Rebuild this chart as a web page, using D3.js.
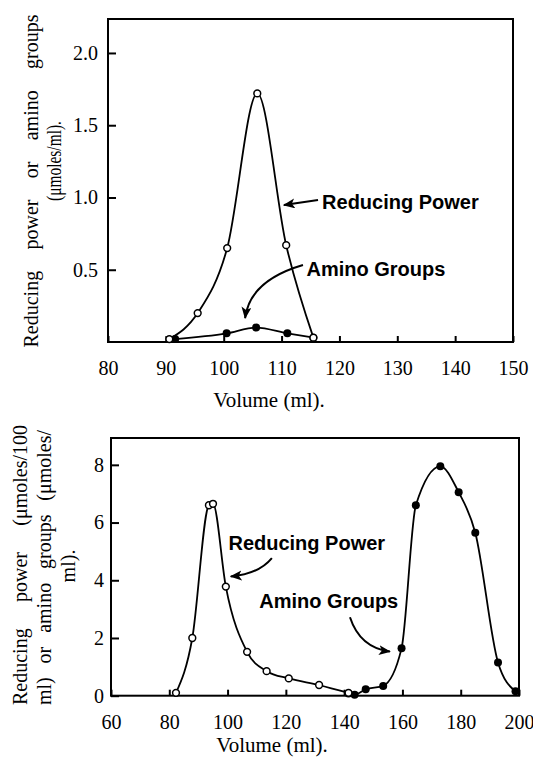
<!DOCTYPE html>
<html><head><meta charset="utf-8">
<script src="https://cdn.jsdelivr.net/npm/d3@7"></script>
<style>body{margin:0;background:#fff;} svg{display:block;background:#fff;}</style>
</head><body><svg id="c" width="533" height="758"></svg>
<script>
// ---------- Top panel data ----------
const topXTicks = [80, 90, 100, 110, 120, 130, 140, 150];
const topYTicks = [0.5, 1.0, 1.5, 2.0];
const topReducingVol = [90.6, 95.5, 100.6, 105.8, 110.8, 115.5];
const topReducingVal = [0.02, 0.20, 0.65, 1.72, 0.67, 0.03];
const topAminoVol = [91.6, 100.5, 105.6, 111.0, 115.5];
const topAminoVal = [0.02, 0.06, 0.10, 0.06, 0.03];

// ---------- Bottom panel data ----------
const botXTicks = [60, 80, 100, 120, 140, 160, 180, 200];
const botYTicks = [0, 2, 4, 6, 8];
const botReducingVol = [82.3, 87.9, 93.6, 95.0, 99.4, 106.7, 113.4, 121.0, 131.4, 141.5];
const botReducingVal = [0.10, 2.00, 6.60, 6.65, 3.78, 1.52, 0.85, 0.60, 0.37, 0.10];
const botAminoVol = [141.5, 143.6, 147.4, 153.4, 159.7, 164.6, 173.0, 179.3, 185.0, 192.8, 198.8];
const botAminoVal = [0.08, 0.03, 0.22, 0.34, 1.64, 6.60, 7.95, 7.05, 5.65, 1.15, 0.15];

// ---------- Text ----------
const xTitle = "Volume (ml).";
const topYTitle = [["Reducing", "power", "or", "amino", "groups"], ["(\u03bcmoles/ml)."]];
const botYTitle = [["Reducing", "power", "(\u03bcmoles/100"], ["ml)", "or", "amino", "groups", "(\u03bcmoles/"], ["ml)."]];
const labelReducing = "Reducing Power";
const labelAmino = "Amino Groups";

const serif = "'Liberation Serif','Times New Roman',Times,serif";
const sans = "'Liberation Sans',Arial,Helvetica,sans-serif";

const svg = d3.select("#c");

// arrow head marker
svg.append("defs").append("marker")
  .attr("id", "ah").attr("markerUnits", "userSpaceOnUse")
  .attr("markerWidth", 14).attr("markerHeight", 12)
  .attr("refX", 11).attr("refY", 5).attr("orient", "auto")
  .append("path").attr("d", "M0,0 L12,5 L0,10 L3,5 Z").attr("fill", "#000");

function panel(cfg) {
  const x = d3.scaleLinear(cfg.xDomain, cfg.xRange);
  const y = d3.scaleLinear(cfg.yDomain, cfg.yRange);
  const g = svg.append("g");

  // axes (inward ticks)
  const ax = g.append("g").attr("transform", `translate(0,${cfg.yRange[0]})`)
    .call(d3.axisBottom(x).tickValues(cfg.xTicks).tickSize(-6).tickPadding(19).tickFormat(d3.format("d")));
  const ay = g.append("g").attr("transform", `translate(${cfg.xRange[0]},0)`)
    .call(d3.axisLeft(y).tickValues(cfg.yTicks).tickSize(-8).tickPadding(cfg.yPad).tickFormat(cfg.yFmt));
  [ax, ay].forEach(a => {
    a.attr("font-family", null).attr("font-size", null);
    a.select(".domain").remove();
    a.selectAll("line").attr("stroke", "#000").attr("stroke-width", 2);
    a.selectAll("text")
      .style("font-family", serif).style("font-size", "20px").attr("fill", "#000");
  });
  // frame
  g.append("rect")
    .attr("x", cfg.xRange[0]).attr("y", cfg.yRange[1])
    .attr("width", cfg.xRange[1] - cfg.xRange[0]).attr("height", cfg.yRange[0] - cfg.yRange[1])
    .attr("fill", "none").attr("stroke", "#000").attr("stroke-width", 2);

  const line = d3.line().x(d => x(d[0])).y(d => y(d[1])).curve(d3.curveMonotoneX);
  const red = cfg.redVol.map((v, i) => [v, cfg.redVal[i]]);
  const ami = cfg.amiVol.map((v, i) => [v, cfg.amiVal[i]]);
  g.append("path").attr("d", line(ami)).attr("fill", "none").attr("stroke", "#000").attr("stroke-width", 1.8);
  g.append("path").attr("d", line(red)).attr("fill", "none").attr("stroke", "#000").attr("stroke-width", 1.8);
  g.selectAll(".am").data(ami).join("circle")
    .attr("cx", d => x(d[0])).attr("cy", d => y(d[1])).attr("r", 4).attr("fill", "#000");
  g.selectAll(".rd").data(red).join("circle")
    .attr("cx", d => x(d[0])).attr("cy", d => y(d[1])).attr("r", 3.4)
    .attr("fill", "#fff").attr("stroke", "#000").attr("stroke-width", 1.5);

  // annotations (in data coordinates)
  cfg.labels.forEach(l => {
    g.append("text").attr("x", x(l.at[0])).attr("y", y(l.at[1]))
      .style("font-family", sans).attr("font-weight", "bold").style("font-size", "20px")
      .attr("fill", "#000").text(l.text);
  });
  cfg.arrows.forEach(a => {
    const p = d3.path();
    p.moveTo(x(a.from[0]), y(a.from[1]));
    if (a.ctrl) p.quadraticCurveTo(x(a.ctrl[0]), y(a.ctrl[1]), x(a.to[0]), y(a.to[1]));
    else p.lineTo(x(a.to[0]), y(a.to[1]));
    g.append("path").attr("d", p.toString()).attr("fill", "none")
      .attr("stroke", "#000").attr("stroke-width", 2).attr("marker-end", "url(#ah)");
  });

  // x title
  g.append("text").attr("x", cfg.xTitlePos[0]).attr("y", cfg.xTitlePos[1])
    .attr("text-anchor", "middle").style("font-family", serif).style("font-size", "21px")
    .attr("fill", "#000").text(xTitle);

  // y title: justified rotated lines
  cfg.yTitle.forEach((words, i) => {
    const L = cfg.yTitleLines[i];
    const gg = svg.append("g").attr("transform", `translate(${L.bx},${L.cy}) rotate(-90)`);
    const t = gg.append("text").style("font-family", serif).style("font-size", "20px").attr("fill", "#000");
    const spans = words.map(w => t.append("tspan").text(w));
    const widths = spans.map(s => s.node().getComputedTextLength());
    const total = d3.sum(widths);
    const len = L.len || (total + 5 * (words.length - 1));
    if (words.length === 1 && L.len) {
      t.attr("textLength", L.len).attr("lengthAdjust", "spacingAndGlyphs");
      spans[0].attr("x", -L.len / 2);
    } else {
      const gap = words.length > 1 ? (len - total) / (words.length - 1) : 0;
      let px = -len / 2;
      spans.forEach((s, k) => { s.attr("x", px); px += widths[k] + gap; });
    }
  });
}

panel({
  xDomain: [80, 150], xRange: [108, 513],
  yDomain: [0, 2.235], yRange: [342, 19],
  xTicks: topXTicks, yTicks: topYTicks, yPad: 10, yFmt: d3.format(".1f"),
  redVol: topReducingVol, redVal: topReducingVal, amiVol: topAminoVol, amiVal: topAminoVal,
  labels: [{text: labelReducing, at: [117.0, 0.92]}, {text: labelAmino, at: [114.3, 0.457]}],
  arrows: [
    {from: [116.3, 0.983], to: [110.4, 0.948]},
    {from: [113.7, 0.533], ctrl: [104.5, 0.425], to: [103.7, 0.166]}
  ],
  xTitlePos: [269, 406.5],
  yTitle: topYTitle,
  yTitleLines: [{bx: 38, cy: 181, len: 333}, {bx: 61, cy: 161, len: 80}]
});

panel({
  xDomain: [60, 200], xRange: [111, 519],
  yDomain: [0, 8.93], yRange: [695.7, 438],
  xTicks: botXTicks, yTicks: botYTicks, yPad: 7, yFmt: d3.format("d"),
  redVol: botReducingVol, redVal: botReducingVal, amiVol: botAminoVol, amiVal: botAminoVal,
  labels: [{text: labelReducing, at: [100.3, 5.04]}, {text: labelAmino, at: [110.9, 3.03]}],
  arrows: [
    {from: [115.2, 4.77], ctrl: [110.7, 4.22], to: [101.1, 4.13]},
    {from: [142.0, 2.72], ctrl: [145.4, 1.67], to: [155.7, 1.53]}
  ],
  xTitlePos: [272, 752],
  yTitle: botYTitle,
  yTitleLines: [{bx: 27, cy: 565, len: 280}, {bx: 51, cy: 567.5, len: 275}, {bx: 75, cy: 566}]
});
</script>
</body></html>
